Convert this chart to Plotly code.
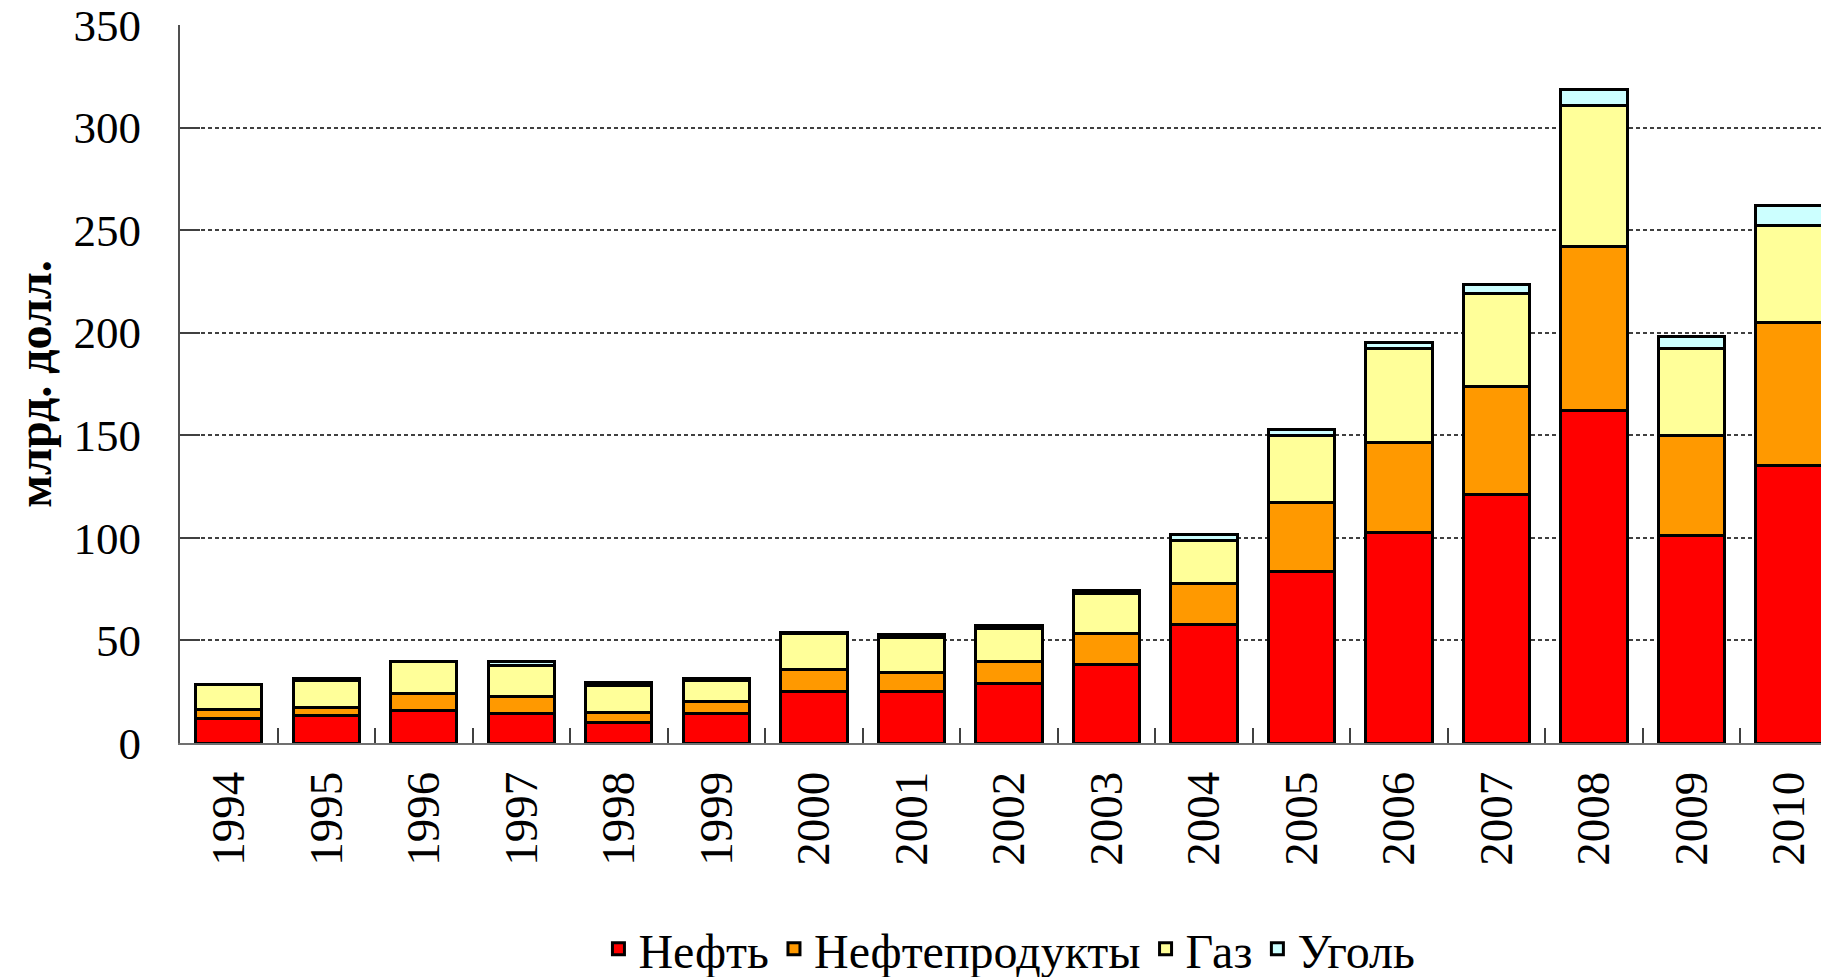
import plotly.graph_objects as go

years = ["1994", "1995", "1996", "1997", "1998", "1999", "2000", "2001", "2002",
         "2003", "2004", "2005", "2006", "2007", "2008", "2009", "2010"]

oil = [12.0, 13.3, 16.0, 14.4, 10.2, 14.4, 25.3, 25.3, 29.2,
       38.4, 58.0, 83.5, 102.8, 121.3, 162.0, 101.0, 135.1]
oil_products = [4.3, 4.0, 8.0, 8.1, 4.5, 5.6, 10.3, 9.1, 10.6,
                15.0, 19.6, 33.5, 43.9, 52.5, 80.0, 48.8, 69.9]
gas = [12.0, 13.1, 15.8, 15.4, 13.3, 10.4, 18.0, 16.9, 16.0,
       19.6, 20.9, 33.0, 45.5, 45.5, 68.7, 42.4, 47.3]
coal = [0.1, 1.0, 0.1, 1.6, 1.6, 1.0, 0.1, 1.5, 1.5,
        1.4, 3.1, 2.8, 3.0, 4.4, 8.1, 5.8, 9.8]

series_names = ["Нефть", "Нефтепродукты", "Газ", "Уголь"]
series_colors = ["#FF0000", "#FF9900", "#FFFF99", "#CCFFFF"]
series_values = [oil, oil_products, gas, coal]

y_ticks = [0, 50, 100, 150, 200, 250, 300, 350]

FONT = "Liberation Serif, Times New Roman, serif"

fig = go.Figure()
for name, color, vals in zip(series_names, series_colors, series_values):
    fig.add_trace(go.Bar(
        x=years, y=vals, name=name,
        marker=dict(color=color, line=dict(color="#000000", width=3)),
    ))

fig.update_layout(
    barmode="stack",
    bargap=0.32,
    width=1829, height=977,
    margin=dict(l=172, r=8, t=17, b=242, autoexpand=False),
    plot_bgcolor="white",
    paper_bgcolor="white",
    font=dict(family=FONT, color="black", size=46),
    showlegend=True,
    legend=dict(
        orientation="h",
        x=0.503, xanchor="center",
        y=-0.287, yanchor="middle",
        font=dict(family=FONT, size=48, color="black"),
        itemwidth=30,
        traceorder="normal",
        bgcolor="rgba(0,0,0,0)",
    ),
    xaxis=dict(
        type="category",
        range=[-0.5, 16.41],
        tickangle=-90,
        ticks="inside",
        tickson="boundaries",
        ticklen=15,
        tickwidth=1.5,
        tickcolor="#404040",
        showline=True,
        linecolor="#707070",
        linewidth=2,
        showgrid=False,
        automargin=False,
        ticklabeloverflow="allow",
        tickfont=dict(family=FONT, size=47, color="black"),
        ticklabelstandoff=8,
    ),
    yaxis=dict(
        range=[0, 350],
        tickvals=y_ticks,
        ticktext=[str(v) for v in y_ticks],
        ticks="inside",
        ticklen=20,
        tickwidth=1.8,
        tickcolor="#404040",
        showline=True,
        linecolor="#505050",
        linewidth=2,
        showgrid=True,
        gridcolor="#404040",
        gridwidth=1.5,
        griddash="4px,3px",
        zeroline=False,
        automargin=False,
        ticklabeloverflow="allow",
        tickfont=dict(family=FONT, size=45, color="black"),
        ticklabelstandoff=28,
        title=dict(
            text="<b>млрд. долл.</b>",
            font=dict(family=FONT, size=48, color="black"),
            standoff=28,
        ),
    ),
)

fig.write_html("out.html")
